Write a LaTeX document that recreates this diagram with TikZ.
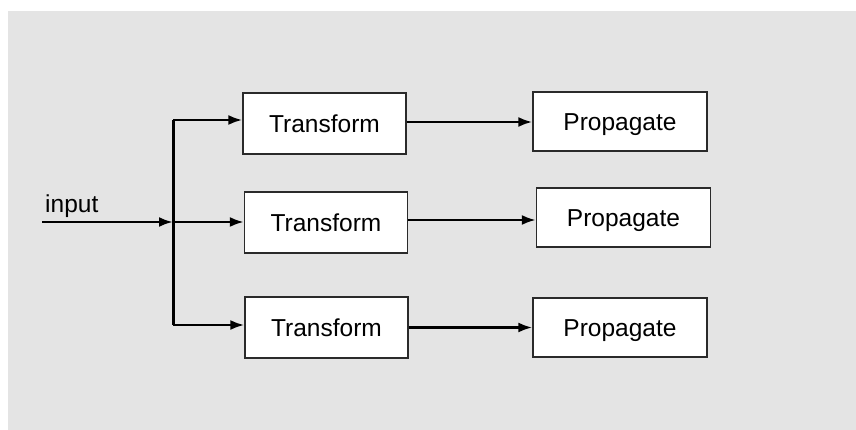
\documentclass[tikz,border=0pt]{standalone}
\usepackage{fontspec}
\setmainfont{Liberation Sans}
\usetikzlibrary{arrows.meta}
\definecolor{panel}{HTML}{E4E4E4}
\definecolor{edge}{HTML}{2A2A2A}
\begin{document}
\begin{tikzpicture}[x=1pt,y=-1pt,
  block/.style={draw=edge,line width=1.3pt,fill=white,inner sep=0pt,
    text height=17.5pt,text depth=0pt,
    font=\fontsize{24.5}{28}\selectfont},
  tbox/.style={block,minimum width=163pt,minimum height=61pt},
  pbox/.style={block,minimum width=174pt,minimum height=59pt},
  flow/.style={line width=2.6pt,-{Latex[length=14pt,width=10pt]}},
  bus/.style={line width=3pt}]
  % page and grey panel
  \useasboundingbox (0,0) rectangle (856,430);
  \fill[panel] (8,11) rectangle (856,430);

  % blocks
  \node[tbox] (t1) at (324.5,123.5) {Transform};
  \node[tbox] (t2) at (326,222.5) {Transform};
  \node[tbox] (t3) at (326.5,327.5) {Transform};
  \node[pbox] (p1) at (620,121.5) {Propagate};
  \node[pbox] (p2) at (623.5,217.5) {Propagate};
  \node[pbox] (p3) at (620,327.5) {Propagate};

  % input and fan-out bus
  \coordinate (in) at (42,222);
  \coordinate (b1) at (173,120);
  \coordinate (b2) at (173,222);
  \coordinate (b3) at (173,325);
  \node[font=\fontsize{24.5}{28}\selectfont,anchor=base west,inner sep=0pt] (lbl) at (45,213) {input};

  \draw[bus] (b1) -- (b3);
  \draw[flow] (in) -- (b2);
  \draw[flow] (b1) -- (b1 -| t1.west);
  \draw[flow] (b2) -- (b2 -| t2.west);
  \draw[flow] (b3) -- (b3 -| t3.west);

  % transform to propagate
  \draw[flow] ([yshift=1.5pt]t1.east) -- ([yshift=1.5pt]t1.east -| p1.west);
  \draw[flow] ([yshift=2.5pt]t2.east) -- ([yshift=2.5pt]t2.east -| p2.west);
  \draw[flow] (t3.east) -- (t3.east -| p3.west);
\end{tikzpicture}
\end{document}
